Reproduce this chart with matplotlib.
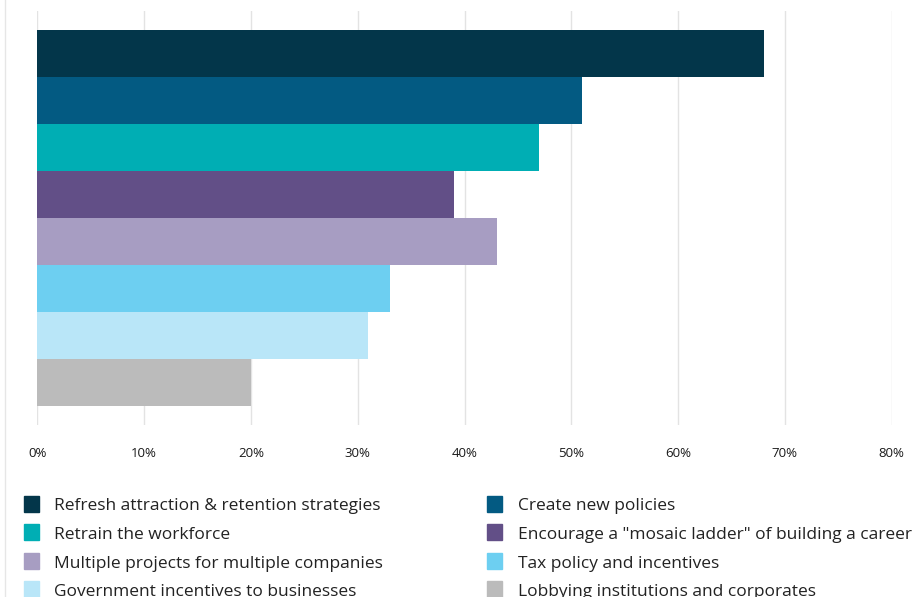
import matplotlib
matplotlib.use("Agg")
import matplotlib.pyplot as plt
from matplotlib.patches import Rectangle
from matplotlib.lines import Line2D

# Survey responses: share of respondents choosing each action
categories = [
    "Refresh attraction & retention strategies",
    "Create new policies",
    "Retrain the workforce",
    "Encourage a \"mosaic ladder\" of building a career",
    "Multiple projects for multiple companies",
    "Tax policy and incentives",
    "Government incentives to businesses",
    "Lobbying institutions and corporates",
]
values = [68, 51, 47, 39, 43, 33, 31, 20]
colors = ["#03364A", "#035A82", "#00AEB4", "#624F87",
          "#A79DC2", "#6DCFF1", "#B9E6F8", "#BBBBBB"]
x_ticks = [0, 10, 20, 30, 40, 50, 60, 70, 80]
x_tick_labels = [f"{t}%" for t in x_ticks]

plt.rcParams["font.family"] = ["Open Sans", "DejaVu Sans"]

W, H = 915, 597
fig = plt.figure(figsize=(W / 100, H / 100), dpi=100)

ax_left, ax_right = 37.3, 891.7
ax_top, ax_bottom = 10.7, 425
ax = fig.add_axes([ax_left / W, 1 - ax_bottom / H,
                   (ax_right - ax_left) / W, (ax_bottom - ax_top) / H])

positions = list(range(len(values)))
ax.barh(positions, values, height=1.0, color=colors, zorder=2)

margin = 0.41
ax.set_ylim(len(values) - 0.5 + margin, -0.5 - margin)
ax.set_xlim(0, 80)
ax.set_xticks(x_ticks)
ax.set_xticklabels(x_tick_labels, fontsize=9.5, color="#1A1A1A")
ax.set_yticks([])
ax.tick_params(axis="x", length=0, pad=16)
ax.grid(axis="x", color="#E3E3E3", linewidth=1.0, zorder=0)
for s in ax.spines.values():
    s.set_visible(False)

# thin frame line at the left edge of the chart area
fig.add_artist(Line2D([5 / W, 5 / W], [0, 1], color="#E6E6E6", linewidth=1.0))

# two-column legend, filled row by row
col_x = [23.5, 486.5]
text_x = [54.5, 518]
row_y = [503.5, 532, 560.5, 589]
sw, sh = 15, 16
for i, (label, color) in enumerate(zip(categories, colors)):
    r, c = divmod(i, 2)
    y = row_y[r]
    fig.add_artist(Rectangle((col_x[c] / W, 1 - (y + sh / 2) / H), sw / W, sh / H,
                             transform=fig.transFigure, color=color))
    fig.text(text_x[c] / W, 1 - (y + 3) / H, label, fontsize=12.5, color="#222222",
             va="center", ha="left")

fig.savefig("out.png", dpi=100)
